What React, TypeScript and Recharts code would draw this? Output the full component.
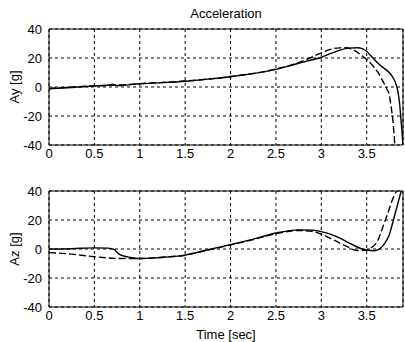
import { LineChart, Line, XAxis, YAxis, CartesianGrid, ReferenceArea } from "recharts"

// Ay [g], solid and dashed traces (time in sec)
const aySolidT = [0, 0.25, 0.5, 0.65, 0.7, 0.75, 1.0, 1.25, 1.5, 1.75, 2.0, 2.25, 2.5, 2.7, 2.85, 3.0, 3.1, 3.2, 3.3, 3.4, 3.45, 3.5, 3.55, 3.6, 3.65, 3.7, 3.75, 3.79, 3.82, 3.84, 3.86, 3.88, 3.9]
const aySolidV = [-1.2, -0.3, 0.7, 1.2, 2.0, 1.0, 2.2, 3.0, 4.0, 5.4, 7.1, 9.2, 12.2, 15.5, 18, 20.5, 23, 25.3, 26.8, 27.1, 26.5, 24.6, 21.2, 18, 15, 12.5, 9.8, 6.4, 2.5, -2, -10, -24, -40]
const ayDashT = [0, 0.5, 0.8, 1.0, 1.5, 2.0, 2.5, 2.7, 2.85, 3.0, 3.1, 3.2, 3.27, 3.35, 3.45, 3.5, 3.57, 3.63, 3.68, 3.72, 3.75, 3.77, 3.79, 3.81]
const ayDashV = [-1, 0.8, 1.5, 2.3, 4.1, 7.2, 12.4, 15.8, 19.3, 23.5, 26, 27, 27.1, 25.7, 21.5, 19, 14.5, 9.5, 3.7, -1, -6, -14, -24, -40]

// Az [g]
const azSolidT = [0, 0.25, 0.5, 0.65, 0.72, 0.76, 0.82, 0.9, 1.0, 1.2, 1.5, 1.75, 2.0, 2.25, 2.5, 2.75, 2.9, 3.0, 3.1, 3.2, 3.3, 3.4, 3.5, 3.58, 3.65, 3.7, 3.75, 3.79, 3.82, 3.85, 3.88]
const azSolidV = [0, 0.2, 0.8, 0.6, -0.5, -3, -4.8, -5.8, -6.6, -6, -4.2, -0.5, 3, 6.8, 11, 13.2, 13, 12, 10.3, 7.6, 4.4, 1.2, -0.7, -1.2, 0.5, 4, 10, 19, 26, 33, 40]
const azDashT = [0, 0.25, 0.5, 0.75, 1.0, 1.25, 1.5, 1.75, 2.0, 2.25, 2.5, 2.75, 2.9, 3.0, 3.13, 3.28, 3.39, 3.5, 3.55, 3.59, 3.63, 3.66, 3.7, 3.74, 3.79, 3.83]
const azDashV = [-2.5, -3.5, -5.3, -6.5, -6.6, -5.6, -4.3, -0.8, 2.8, 6.5, 10.6, 12.8, 12.2, 10.3, 6.4, 1.8, -1, -0.8, 0.8, 3, 7, 12, 19, 26, 35, 40]

const xTicks = [0, 0.5, 1, 1.5, 2, 2.5, 3, 3.5]
const yTicks = [-40, -20, 0, 20, 40]

const zip = (t: number[], v: number[]) => t.map((x, i) => ({ t: x, v: v[i] }))

const font = "'Liberation Sans', Arial, sans-serif"
const tick = { fontSize: 13, fill: "#000", fontFamily: font }

function Panel({ solid, dash, label, top, xAxisHeight, xLabel }: any) {
  return (
    <LineChart width={405} height={171} margin={{ top, right: 2, bottom: 0, left: 0 }}>
      <CartesianGrid stroke="#000" strokeDasharray="3 3" />
      <XAxis
        dataKey="t"
        type="number"
        domain={[0, 3.9]}
        ticks={xTicks}
        allowDataOverflow
        tickLine={false}
        axisLine={false}
        tickSize={2}
        tickMargin={2}
        height={xAxisHeight}
        tick={tick}
        label={xLabel ? { value: xLabel, position: "insideBottom", offset: 3, style: { fontSize: 13, fill: "#000", fontFamily: font } } : undefined}
      />
      <YAxis
        type="number"
        domain={[-40, 40]}
        ticks={yTicks}
        allowDataOverflow
        tickLine={false}
        axisLine={false}
        tickSize={5}
        tickMargin={2}
        width={49}
        tick={tick}
        label={{ value: label, angle: -90, position: "insideLeft", offset: 14, style: { textAnchor: "middle", fontSize: 13, fill: "#000", fontFamily: font } }}
      />
      <Line data={solid} dataKey="v" type="monotone" stroke="#000" strokeWidth={1.4} dot={false} isAnimationActive={false} />
      <Line data={dash} dataKey="v" type="monotone" stroke="#000" strokeWidth={1.4} strokeDasharray="7 3" dot={false} isAnimationActive={false} />
      <ReferenceArea x1={0} x2={3.9} y1={-40} y2={40} fill="none" stroke="#000" strokeWidth={1} />
    </LineChart>
  )
}

export default function App() {
  return (
    <div style={{ position: "absolute", left: 0, top: 0, width: 405, height: 342, background: "#fff" }}>
      <div style={{ position: "absolute", left: 49, width: 354, top: 6, textAlign: "center", fontSize: 13, fontFamily: font }}>
        Acceleration
      </div>
      <div style={{ position: "absolute", left: 0, top: 0 }}>
        <Panel solid={zip(aySolidT, aySolidV)} dash={zip(ayDashT, ayDashV)} label="Ay [g]" top={29} xAxisHeight={26} />
      </div>
      <div style={{ position: "absolute", left: 0, top: 171 }}>
        <Panel solid={zip(azSolidT, azSolidV)} dash={zip(azDashT, azDashV)} label="Az [g]" top={20} xAxisHeight={35} xLabel="Time [sec]" />
      </div>
    </div>
  )
}
